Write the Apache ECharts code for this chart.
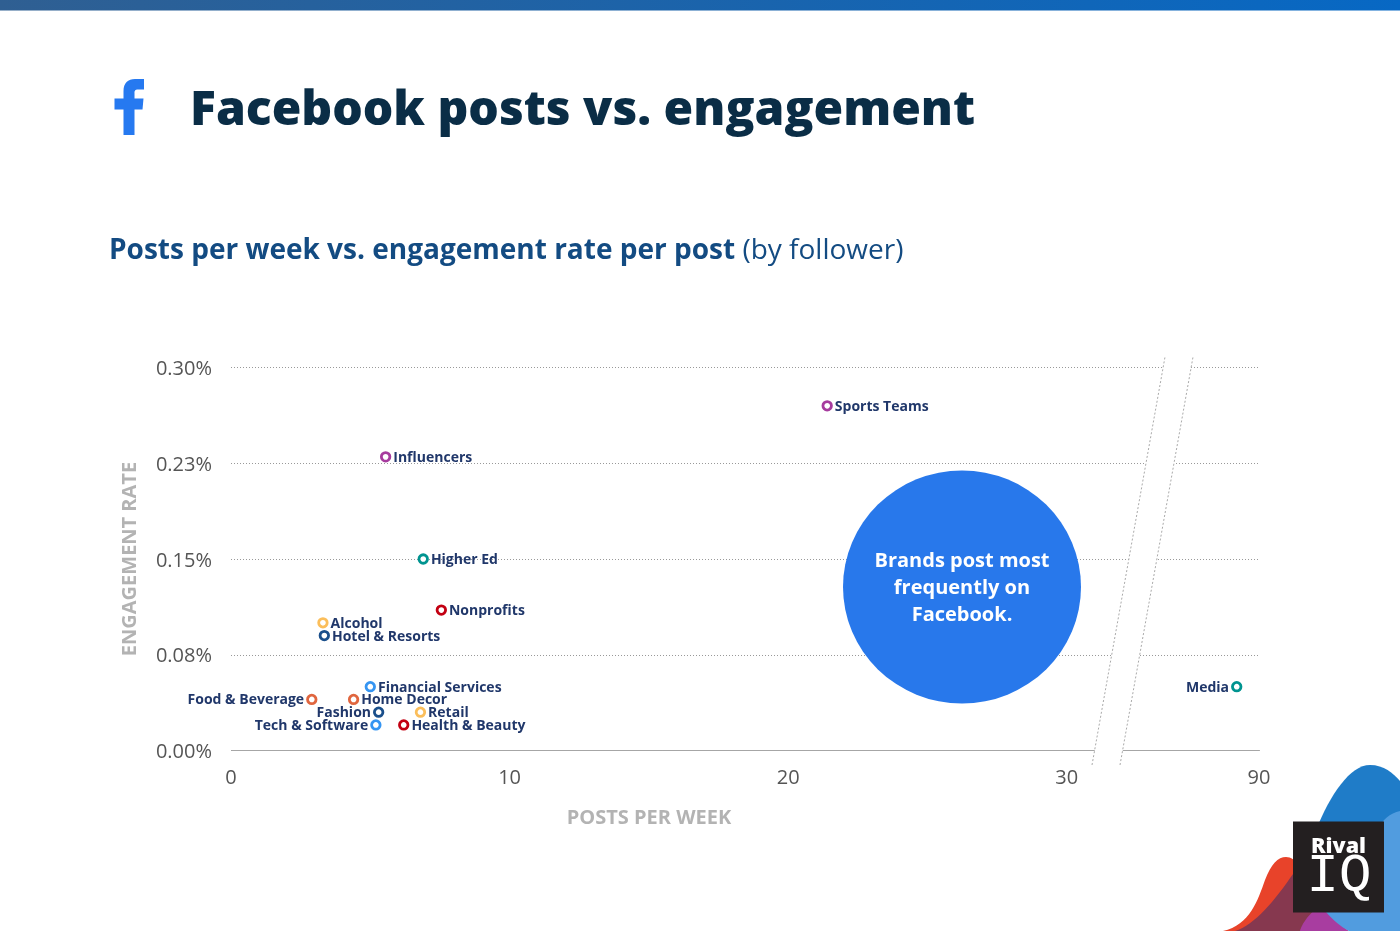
<!DOCTYPE html>
<html><head><meta charset="utf-8">
<script src="https://cdn.jsdelivr.net/npm/echarts@6/dist/echarts.min.js"></script>
<style>html,body{margin:0;padding:0;background:#fff}#c{width:1400px;height:931px}</style>
</head><body><div id="c"></div>
<script>
// --- data ---
const categories = ['Sports Teams','Influencers','Higher Ed','Nonprofits','Alcohol','Hotel & Resorts','Financial Services','Food & Beverage','Home Decor','Fashion','Retail','Tech & Software','Health & Beauty','Media'];
const postsPerWeek = [21.4,5.55,6.9,7.55,3.3,3.35,5.0,2.9,4.4,5.3,6.8,5.2,6.2,89.2];
const engagementRate = [0.27,0.23,0.15,0.11,0.10,0.09,0.05,0.04,0.04,0.03,0.03,0.02,0.02,0.05];
const xTickLabels = [0,10,20,30,90];
const yTickLabels = ['0.00%','0.08%','0.15%','0.23%','0.30%'];
const labelsOnLeft = ['Food & Beverage','Fashion','Tech & Software','Media'];
// --- styles ---
const PURPLE='#a63b9e',TEAL='#009490',RED='#c30012',YELLOW='#fbbe5b',NAVY='#1a4f8b',BLUE='#3595f2',ORANGE='#e0663f';
const markColors = {'Sports Teams':PURPLE,'Influencers':PURPLE,'Higher Ed':TEAL,'Media':TEAL,'Nonprofits':RED,'Health & Beauty':RED,'Alcohol':YELLOW,'Retail':YELLOW,'Hotel & Resorts':NAVY,'Fashion':NAVY,'Financial Services':BLUE,'Tech & Software':BLUE,'Food & Beverage':ORANGE,'Home Decor':ORANGE};
const FONT='"Open Sans"';
const points = categories.map((name,i)=>({
  name, value:[postsPerWeek[i],engagementRate[i]],
  itemStyle:{color:'#fff',borderColor:markColors[name],borderWidth:2.8,opacity:1},
  label:{position:labelsOnLeft.includes(name)?'left':'right'}
}));
// decorative artwork shapes (logo, brand blobs)
const decor = {
  logoF:'M123.5,135 L123.5,109.5 L114.5,109.5 L114.5,98.5 L123.5,98.5 L123.5,91 C123.5,83 128,79 135,79 L144,79 L144,89.5 L138,89.5 C135,89.5 134.5,91 134.5,93 L134.5,98.5 L143.5,98.5 L142.5,109.5 L134.5,109.5 L134.5,135 Z',
  blobRed:'M1223,931 C1250,925 1258,900 1265,880 C1271,864 1278,857 1286,857 C1296,857 1303,870 1310,885 L1340,931 Z',
  blobPurple:'M1290,931 L1300,900 L1325,905 C1332,915 1340,925 1349,931 Z',
  blobMaroon:'M1235,931 C1255,925 1275,900 1293,874 L1320,905 C1305,918 1302,925 1300,931 Z',
  blobBlue:'M1316,830 C1330,795 1350,765 1370,765 C1384,765 1393,773 1400,781 L1400,900 L1316,900 Z',
  blobLight:'M1400,811 C1390,813 1382,820 1378,830 L1326,912 C1333,920 1341,927 1349,931 L1400,931 Z'
};
Object.keys(decor).forEach(k=>echarts.graphic.registerShape(k,echarts.graphic.extendPath(decor[k])));
const chart = echarts.init(document.getElementById('c'),null,{renderer:'canvas'});
chart.setOption({
  animation:false,
  backgroundColor:'#fff',
  title:[
    {text:'Facebook posts vs. engagement',left:190,top:76,padding:0,textStyle:{fontFamily:FONT,fontWeight:800,fontSize:48,color:'#0a2d46',lineHeight:70}},
    {text:'{b|Posts per week vs. engagement rate per post}{s| }{r|(by follower)}',left:109,top:231,padding:0,textStyle:{rich:{
      b:{fontFamily:FONT,fontWeight:700,fontSize:28,color:'#134b82',lineHeight:40},
      s:{fontFamily:FONT,fontWeight:700,fontSize:28,lineHeight:40},
      r:{fontFamily:FONT,fontWeight:400,fontSize:28,color:'#134b82',lineHeight:40}}}}
  ],
  grid:{left:231,right:141,top:367.5,bottom:180.5},
  xAxis:{type:'value',min:0,max:90,interval:10,
    breaks:[{start:31,end:85,gap:0.9}],
    breakArea:{show:false},
    name:'POSTS PER WEEK',nameLocation:'middle',nameGap:58,
    nameTextStyle:{fontFamily:FONT,fontWeight:700,fontSize:20,color:'#b3b3b3',padding:[0,192,0,0]},
    axisLine:{show:true,lineStyle:{color:'#a6a6a6',width:1}},axisTick:{show:false},splitLine:{show:false},
    axisLabel:{fontFamily:FONT,fontSize:20,color:'#555',margin:18,customValues:xTickLabels,showMinLabel:true,showMaxLabel:true,
      formatter:v=>String(v)}
  },
  yAxis:{type:'value',min:0,max:0.3,interval:0.075,
    name:'ENGAGEMENT RATE',nameLocation:'middle',nameGap:91,
    nameTextStyle:{fontFamily:FONT,fontWeight:700,fontSize:20,color:'#b3b3b3'},
    axisLine:{show:false},axisTick:{show:false},
    splitLine:{show:true,lineStyle:{color:'#999',type:[1,2],width:1}},
    axisLabel:{fontFamily:FONT,fontSize:20,color:'#555',margin:19,verticalAlign:'top',lineHeight:4,
      formatter:v=>yTickLabels[Math.round(v/0.075)]}
  },
  series:[{type:'scatter',symbol:'circle',symbolSize:8.5,data:points,z:5,
    label:{show:true,formatter:'{b}',distance:2,offset:[0,1],fontFamily:FONT,fontWeight:700,fontSize:14,color:'#20376a'}}],
  graphic:{elements:[
    {type:'rect',z:100,shape:{x:0,y:0,width:1400,height:10.5},style:{fill:new echarts.graphic.LinearGradient(0,0,1,0,[{offset:0,color:'#2f5f92'},{offset:1,color:'#0768c4'}])}},
    {type:'logoF',z:100,style:{fill:'#2679f0'}},
    {type:'polygon',z:50,shape:{points:[[1092,766],[1165,357],[1193,357],[1120,766]]},style:{fill:'#fff'}},
    {type:'line',z:51,shape:{x1:1092,y1:765,x2:1165,y2:357},style:{stroke:'#aaa',lineWidth:1,lineDash:[2,2]}},
    {type:'line',z:51,shape:{x1:1120,y1:765,x2:1193,y2:357},style:{stroke:'#aaa',lineWidth:1,lineDash:[2,2]}},
    {type:'circle',z:60,x:962,y:587,scaleY:0.979,shape:{cx:0,cy:0,r:119},style:{fill:'#2878eb'}},
    {type:'text',z:61,x:962,y:588,style:{text:'Brands post most\nfrequently on\nFacebook.',align:'center',verticalAlign:'middle',fontFamily:FONT,fontWeight:700,fontSize:20,lineHeight:27,fill:'#fff'}},
    {type:'blobRed',z:70,style:{fill:'#e8432a'}},
    {type:'blobPurple',z:71,style:{fill:'#a83da0'}},
    {type:'blobMaroon',z:72,style:{fill:'#86384f'}},
    {type:'blobBlue',z:73,style:{fill:'#1f7cc8'}},
    {type:'blobLight',z:74,style:{fill:'#519cdf'}},
    {type:'rect',z:80,shape:{x:1293,y:821.5,width:91,height:91},style:{fill:'#231f20'}},
    {type:'text',z:81,x:1338.5,y:846.5,style:{text:'Rival',align:'center',verticalAlign:'middle',fontFamily:FONT,fontWeight:800,fontSize:21.5,fill:'#fff'}},
    {type:'text',z:81,x:1339,y:877,style:{text:'IQ',align:'center',verticalAlign:'middle',fontFamily:'"Liberation Mono"',fontSize:54,fill:'#fff',stroke:'#231f20',lineWidth:1.2}}
  ]}
});
</script></body></html>
